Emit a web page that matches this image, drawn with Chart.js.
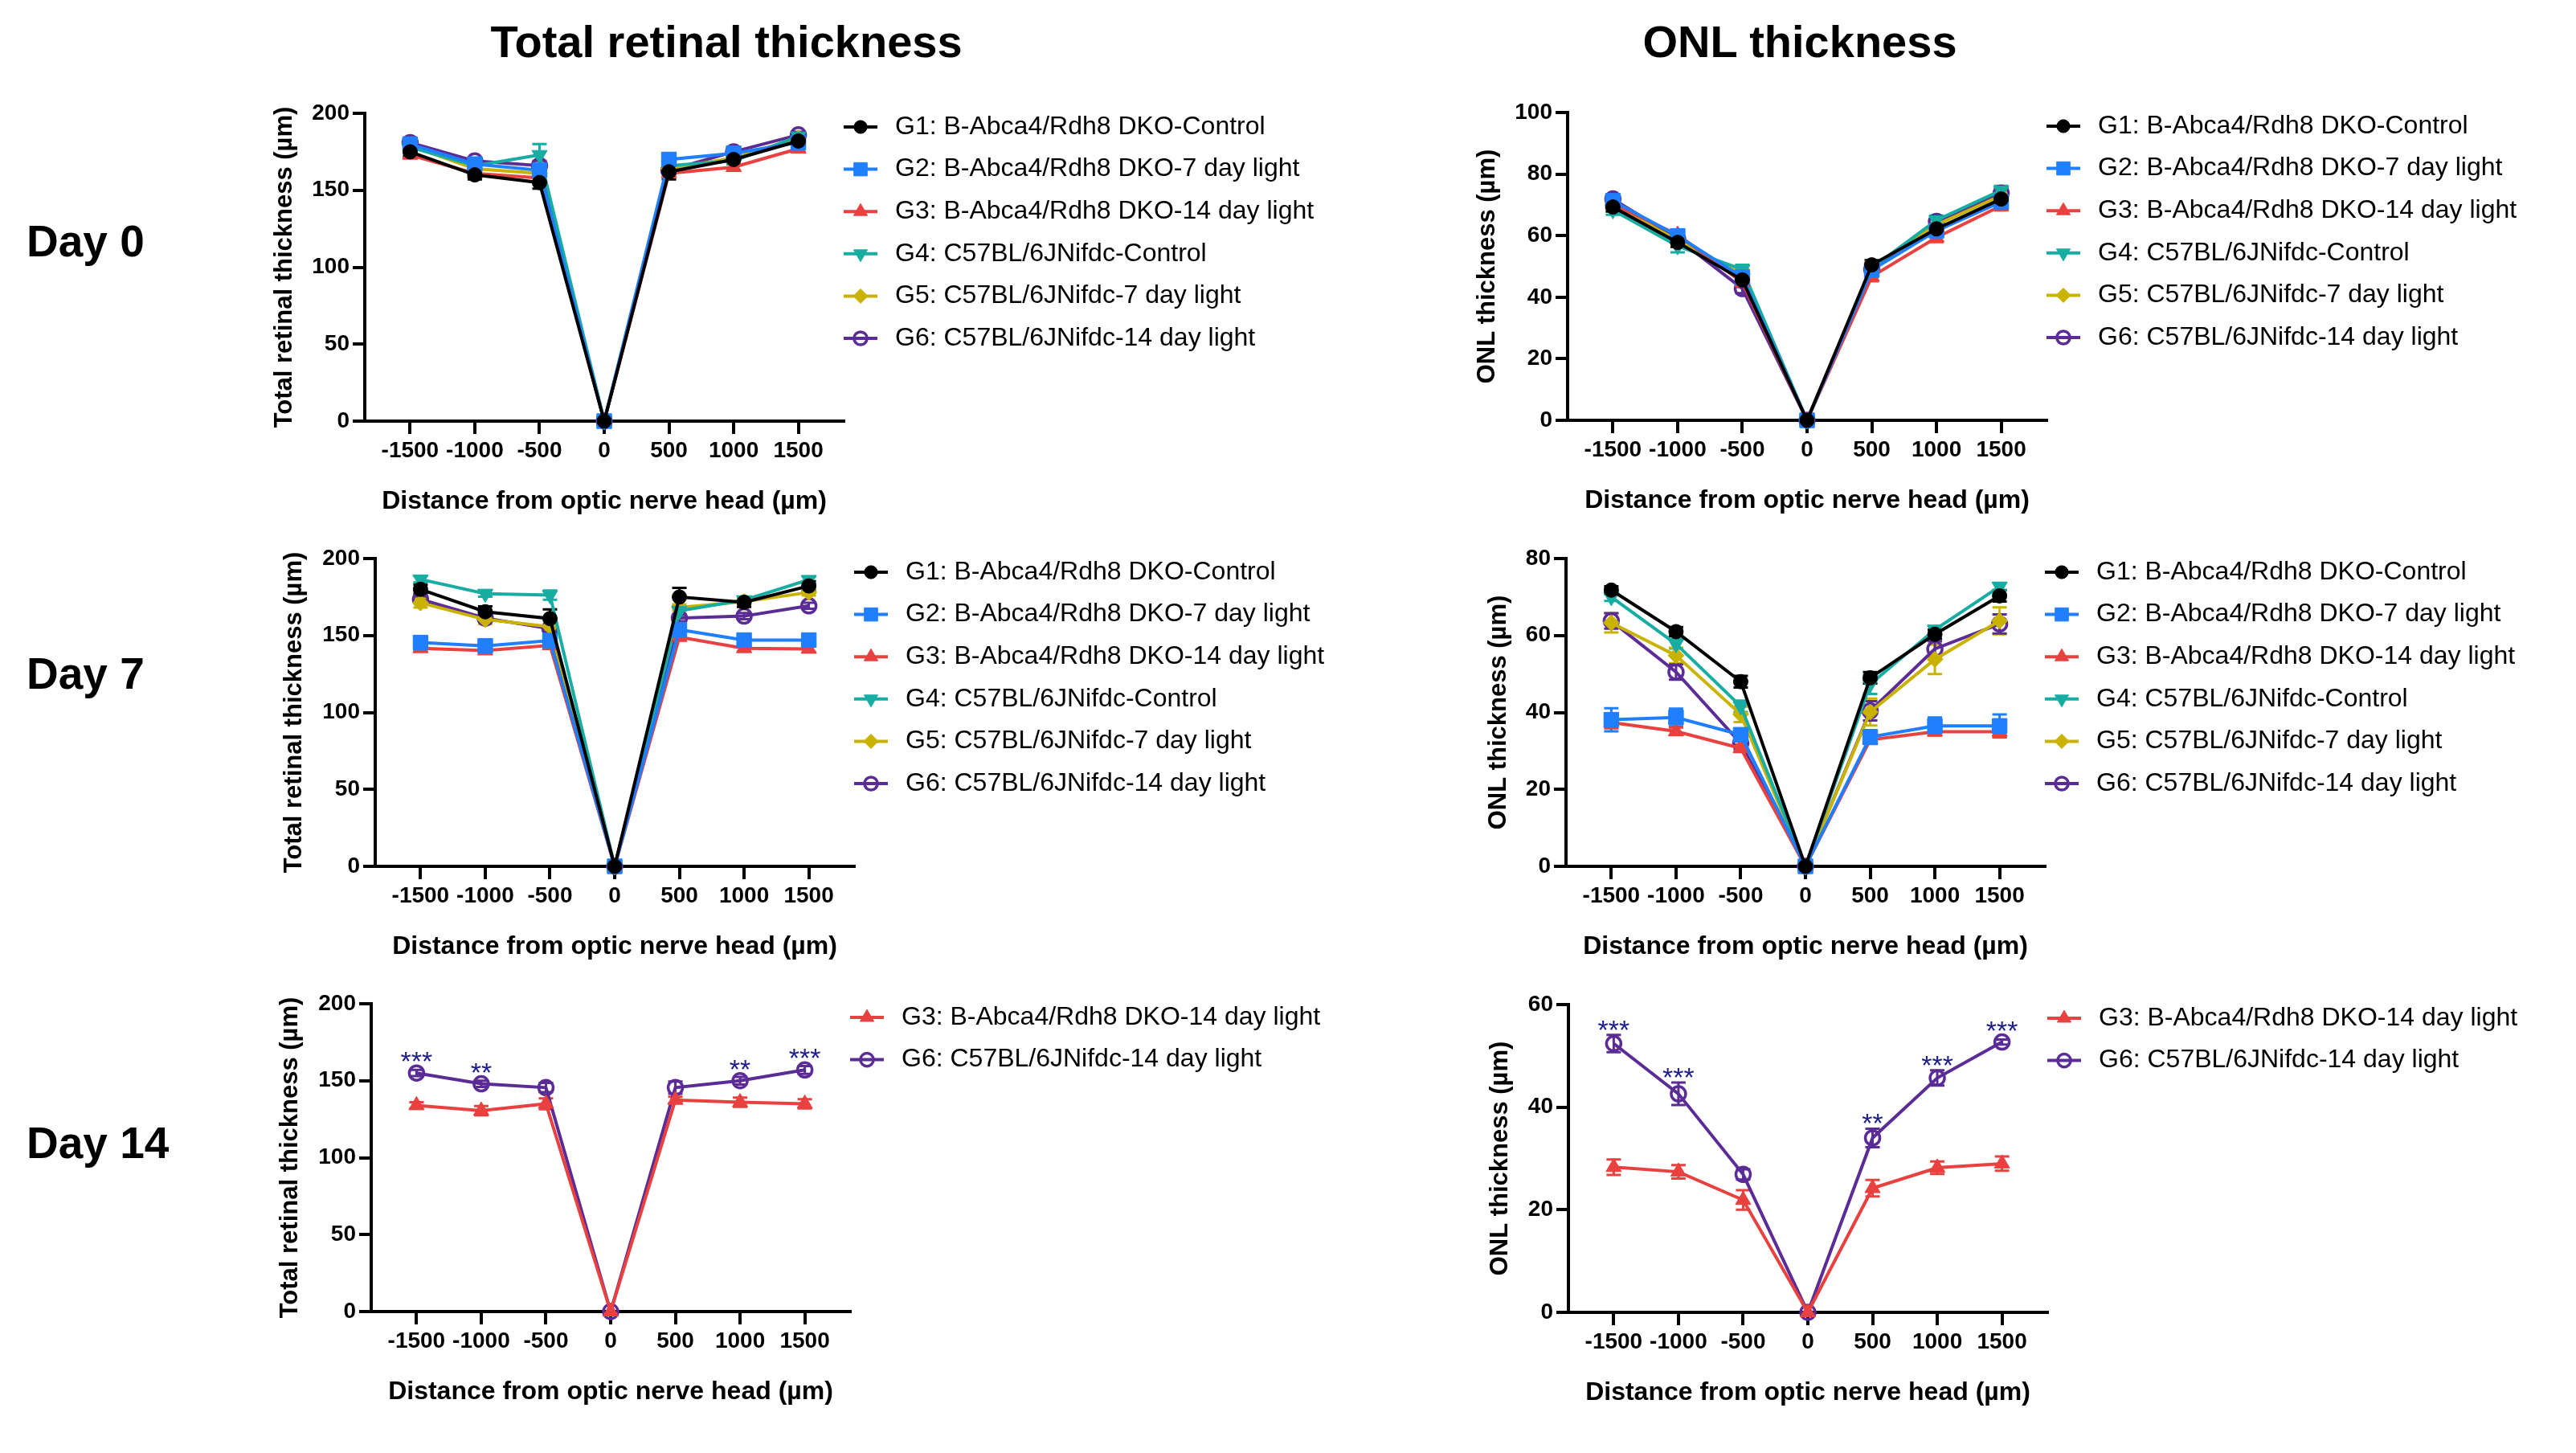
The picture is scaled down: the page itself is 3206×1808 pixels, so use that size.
<!DOCTYPE html>
<html>
<head>
<meta charset="utf-8">
<script src="https://cdn.jsdelivr.net/npm/chart.js@4.4.1/dist/chart.umd.min.js"></script>
<style>
body{margin:0;background:#fff;width:3206px;height:1808px;position:relative;overflow:hidden;font-family:"Liberation Sans",Arial,sans-serif;}
.lbl{position:absolute;font-weight:bold;color:#000;white-space:nowrap;}
.mid{transform:translate(-50%,-50%);}
.panel{position:absolute;}
</style>
</head>
<body>
<div class="lbl mid" style="left:904px;top:51px;font-size:56px;">Total retinal thickness</div>
<div class="lbl mid" style="left:2240px;top:51px;font-size:56px;">ONL thickness</div>
<div class="lbl" style="left:33px;top:300px;font-size:55px;transform:translateY(-50%);">Day 0</div>
<div class="lbl" style="left:33px;top:838px;font-size:55px;transform:translateY(-50%);">Day 7</div>
<div class="lbl" style="left:33px;top:1422px;font-size:55px;transform:translateY(-50%);">Day 14</div>
<script>
// x positions (µm from optic nerve head)
const distances=[-1500,-1000,-500,0,500,1000,1500];
const xTickLabels=['-1500','-1000','-500','0','500','1000','1500'];
const groupNames=[
	'G1: B-Abca4/Rdh8 DKO-Control',
	'G2: B-Abca4/Rdh8 DKO-7 day light',
	'G3: B-Abca4/Rdh8 DKO-14 day light',
	'G4: C57BL/6JNifdc-Control',
	'G5: C57BL/6JNifdc-7 day light',
	'G6: C57BL/6JNifdc-14 day light'
];
const totalTicks=[0,50,100,150,200];
const onlTicksDay0=[0,20,40,60,80,100];
const onlTicksDay7=[0,20,40,60,80];
const onlTicksDay14=[0,20,40,60];

// mean values, one row per group
const day0Total=[
	[175,160,155,0,162,170,182],
	[180,167,163,0,170,174,181],
	[173,161,158,0,161,165,177],
	[178,166,173,0,166,169,185],
	[179,164,161,0,164,171,184],
	[181,169,166,0,163,175,186]
];
const day0TotalSem=[
	[3,3,4,0,5,3,3],
	[2,2,3,0,2,2,2],
	[2,2,2,0,2,2,2],
	[2,2,7,0,3,2,2],
	[2,2,2,0,2,2,2],
	[2,2,3,0,2,2,2]
];
const day0Onl=[
	[69.3,57.8,45.6,0,50.5,62.2,71.9],
	[71.3,59.9,46.5,0,48.8,61.6,71.0],
	[70.2,60.3,44.8,0,46.7,59.4,69.7],
	[68.3,56.6,49.0,0,49.5,65.0,74.7],
	[70.0,58.5,47.5,0,50.0,63.5,73.0],
	[71.9,59.0,42.8,0,49.0,64.6,73.8]
];
const day0OnlSem=[
	[1.5,1.5,1.5,0,1.5,1.5,1.5],
	[1.5,1.5,1.5,0,1.5,1.5,1.5],
	[1.5,1.5,1.5,0,1.5,1.5,1.5],
	[1.5,2,1.5,0,1.5,1.5,1.5],
	[1.5,1.5,1.5,0,1.5,1.5,1.5],
	[1.5,1.5,1.5,0,1.5,1.5,1.5]
];
const day7Total=[
	[180,165.4,161,0,175,171.6,182.2],
	[145.4,143.2,146.7,0,153.8,147,147],
	[141.7,140.2,143.6,0,149,141.7,141.3],
	[186.5,177.2,176.3,0,166,173,186.2],
	[171.2,160.4,155.7,0,168.2,172,178],
	[173.5,161.3,154.4,0,161.3,162.6,169.3]
];
const day7TotalSem=[
	[3,3.5,6,0,6,3,3],
	[2,2,2,0,2,2,2],
	[2,2,2,0,2,2,2],
	[2,2,3,0,2,2,2],
	[3,3,2,0,2,2,2],
	[2,2,2,0,2,2,2]
];
const day7Onl=[
	[71.8,61,48,0,49,60.3,70.3],
	[38.1,38.7,34.2,0,33.6,36.5,36.5],
	[37.4,35.1,30.7,0,32.9,35,35],
	[70,57.8,41.6,0,47.3,61.5,72.7],
	[63.3,54.8,39.5,0,40.1,53.8,63.8],
	[63.8,50.5,32,0,40.4,56.5,63]
];
const day7OnlSem=[
	[1,1.2,1.5,0,1.5,1.2,1.5],
	[3,2.3,1.5,0,1.8,2.2,3],
	[1.5,1,1,0,1,1,1.5],
	[1,1.2,1.5,0,2.5,1,1],
	[2.5,2,2,0,3.5,3.8,3.5],
	[2,2,1.5,0,2.5,2,2.5]
];
const day14Total=[
	[134,130.5,135,0,137.5,136,135],
	[155,148,145.5,0,145.5,150,157]
];
const day14TotalSem=[
	[2,3,3.5,0,2,3,3],
	[2,2,3,0,4,2.5,2.5]
];
const day14Onl=[
	[28.3,27.4,21.9,0,24.2,28.2,29],
	[52.4,42.6,26.9,0,34,45.7,52.7]
];
const day14OnlSem=[
	[1.5,1.3,1.9,0,1.6,1.2,1.4],
	[1.7,2.2,1,0,1.8,1.5,0.5]
];
const day14TotalStars=['***','**','','','','**','***'];
const day14OnlStars=['***','***','','','**','***','***'];

// styles
const FONT='"Liberation Sans", Arial, sans-serif';
const groupColors=['#000000','#1f7fff','#e8413f','#17ada3','#c9b200','#5b2c96'];
const groupMarkers=['circle','rect','triangle','triangle','rectRot','circle'];
const markerRotation=[0,0,0,180,0,0];
const markerRadius=[9,13,11,11,10,9];
const markerFilled=[true,true,true,true,true,false];
const starColor='#1c1c8a';

// layout of every panel canvas
const AXIS_W=180, PAD_TOP=40, PLOT_W=596, PLOT_H=383, X_AXIS_H=130, LEGEND_W=600;
const CW=AXIS_W+PLOT_W+LEGEND_W, CH=PAD_TOP+PLOT_H+X_AXIS_H;

const panels=[
	{axisX:454,topY:141,groups:[0,1,2,3,4,5],mean:day0Total,sem:day0TotalSem,yTicks:totalTicks,yTitle:'Total retinal thickness (µm)',titleGap:100},
	{axisX:1951,topY:140,groups:[0,1,2,3,4,5],mean:day0Onl,sem:day0OnlSem,yTicks:onlTicksDay0,yTitle:'ONL thickness (µm)',titleGap:100},
	{axisX:467,topY:695,groups:[0,1,2,3,4,5],mean:day7Total,sem:day7TotalSem,yTicks:totalTicks,yTitle:'Total retinal thickness (µm)',titleGap:101},
	{axisX:1949,topY:695,groups:[0,1,2,3,4,5],mean:day7Onl,sem:day7OnlSem,yTicks:onlTicksDay7,yTitle:'ONL thickness (µm)',titleGap:84},
	{axisX:462,topY:1249,groups:[2,5],mean:day14Total,sem:day14TotalSem,yTicks:totalTicks,yTitle:'Total retinal thickness (µm)',titleGap:101,stars:day14TotalStars},
	{axisX:1952,topY:1250,groups:[2,5],mean:day14Onl,sem:day14OnlSem,yTicks:onlTicksDay14,yTitle:'ONL thickness (µm)',titleGap:85,stars:day14OnlStars}
];

// error bars (mean ± SEM), drawn under the markers
const errorBars={
	id:'errorBars',
	beforeDatasetsDraw(chart){
		const ctx=chart.ctx, x=chart.scales.x, y=chart.scales.y;
		chart.data.datasets.forEach(function(ds){
			ctx.save();
			ctx.strokeStyle=ds.borderColor;
			ctx.lineWidth=3;
			ds.data.forEach(function(pt,j){
				const e=ds.sem[j];
				if(!e) return;
				const px=x.getPixelForValue(pt.x);
				const top=y.getPixelForValue(pt.y+e);
				const bot=y.getPixelForValue(pt.y-e);
				ctx.beginPath();
				ctx.moveTo(px,top); ctx.lineTo(px,bot);
				ctx.moveTo(px-9,top); ctx.lineTo(px+9,top);
				ctx.moveTo(px-9,bot); ctx.lineTo(px+9,bot);
				ctx.stroke();
			});
			ctx.restore();
		});
	}
};

// legend with a line segment and the marker, like the original
const lineLegend={
	id:'lineLegend',
	afterDraw(chart){
		const ctx=chart.ctx, area=chart.chartArea;
		chart.data.datasets.forEach(function(ds,i){
			const y0=area.top+17+i*52.6, x0=area.right;
			ctx.save();
			ctx.strokeStyle=ds.borderColor;
			ctx.lineWidth=4;
			ctx.beginPath(); ctx.moveTo(x0,y0); ctx.lineTo(x0+42,y0); ctx.stroke();
			ctx.fillStyle=ds.pointBackgroundColor;
			ctx.strokeStyle=ds.pointBorderColor;
			ctx.lineWidth=ds.pointBorderWidth;
			Chart.helpers.drawPoint(ctx,{pointStyle:ds.pointStyle,rotation:ds.pointRotation,radius:ds.pointRadius*0.9,borderWidth:ds.pointBorderWidth},x0+21,y0);
			ctx.fillStyle='#000';
			ctx.font='32px '+FONT;
			ctx.textBaseline='middle';
			ctx.textAlign='left';
			ctx.fillText(ds.label,x0+64,y0);
			ctx.restore();
		});
	}
};

// significance stars over the G6 series
const starMarks={
	id:'starMarks',
	afterDatasetsDraw(chart,args,opts){
		if(!opts.labels) return;
		const ctx=chart.ctx, x=chart.scales.x, y=chart.scales.y;
		const ds=chart.data.datasets[opts.series];
		ctx.save();
		ctx.fillStyle=starColor;
		ctx.font='34px '+FONT;
		ctx.textAlign='center';
		ctx.textBaseline='alphabetic';
		opts.labels.forEach(function(s,j){
			if(!s) return;
			const pt=ds.data[j];
			const py=y.getPixelForValue(pt.y);
			const cap=y.getPixelForValue(pt.y+ds.sem[j]);
			const cy=Math.min(py-22,cap-14);
			ctx.fillText(s,x.getPixelForValue(pt.x),cy+19);
		});
		ctx.restore();
	}
};

function makeChart(p){
	const wrap=document.createElement('div');
	wrap.className='panel';
	wrap.style.left=(p.axisX-AXIS_W)+'px';
	wrap.style.top=(p.topY-PAD_TOP)+'px';
	const cv=document.createElement('canvas');
	cv.width=CW; cv.height=CH;
	cv.style.width=CW+'px'; cv.style.height=CH+'px';
	wrap.appendChild(cv);
	document.body.appendChild(wrap);

	const datasets=p.groups.map(function(g,k){
		return {
			label:groupNames[g],
			data:distances.map(function(d,i){return {x:d,y:p.mean[k][i]};}),
			sem:p.sem[k],
			borderColor:groupColors[g],
			backgroundColor:groupColors[g],
			borderWidth:4,
			tension:0,
			clip:false,
			pointStyle:groupMarkers[g],
			pointRotation:markerRotation[g],
			pointRadius:markerRadius[g],
			pointHoverRadius:markerRadius[g],
			pointBackgroundColor:markerFilled[g]?groupColors[g]:'rgba(0,0,0,0)',
			pointBorderColor:groupColors[g],
			pointBorderWidth:markerFilled[g]?1:3.5
		};
	});
	const yMax=p.yTicks[p.yTicks.length-1];

	new Chart(cv,{
		type:'line',
		data:{datasets:datasets},
		plugins:[errorBars,lineLegend,starMarks],
		options:{
			responsive:false,
			animation:false,
			devicePixelRatio:1,
			events:[],
			layout:{padding:{left:0,top:PAD_TOP,right:LEGEND_W,bottom:0}},
			plugins:{
				legend:{display:false},
				tooltip:{enabled:false},
				starMarks:{labels:p.stars,series:1}
			},
			scales:{
				x:{
					type:'linear',min:-1850,max:1850,
					afterBuildTicks:function(s){s.ticks=distances.map(function(v){return {value:v};});},
					afterFit:function(s){s.height=X_AXIS_H;},
					ticks:{
						callback:function(v){return xTickLabels[distances.indexOf(v)];},
						color:'#000',font:{family:FONT,size:28,weight:'bold'},
						padding:4,maxRotation:0,autoSkip:false
					},
					grid:{display:true,drawOnChartArea:false,drawTicks:true,tickLength:16,lineWidth:4,color:'#000'},
					border:{display:true,width:4,color:'#000'},
					title:{display:true,text:'Distance from optic nerve head (µm)',color:'#000',
						font:{family:FONT,size:32,weight:'bold'},padding:{top:0,bottom:11}}
				},
				y:{
					type:'linear',min:0,max:yMax,
					afterBuildTicks:function(s){s.ticks=p.yTicks.map(function(v){return {value:v};});},
					afterFit:function(s){s.width=AXIS_W;},
					ticks:{color:'#000',font:{family:FONT,size:28,weight:'bold'},padding:4},
					grid:{display:true,drawOnChartArea:false,drawTicks:true,tickLength:15,lineWidth:4,color:'#000'},
					border:{display:true,width:4,color:'#000'},
					title:{display:true,text:p.yTitle,color:'#000',
						font:{family:FONT,size:31,weight:'bold'},padding:{top:AXIS_W-p.titleGap-18.6,bottom:0}}
				}
			}
		}
	});
}

panels.forEach(makeChart);
</script>
</body>
</html>
